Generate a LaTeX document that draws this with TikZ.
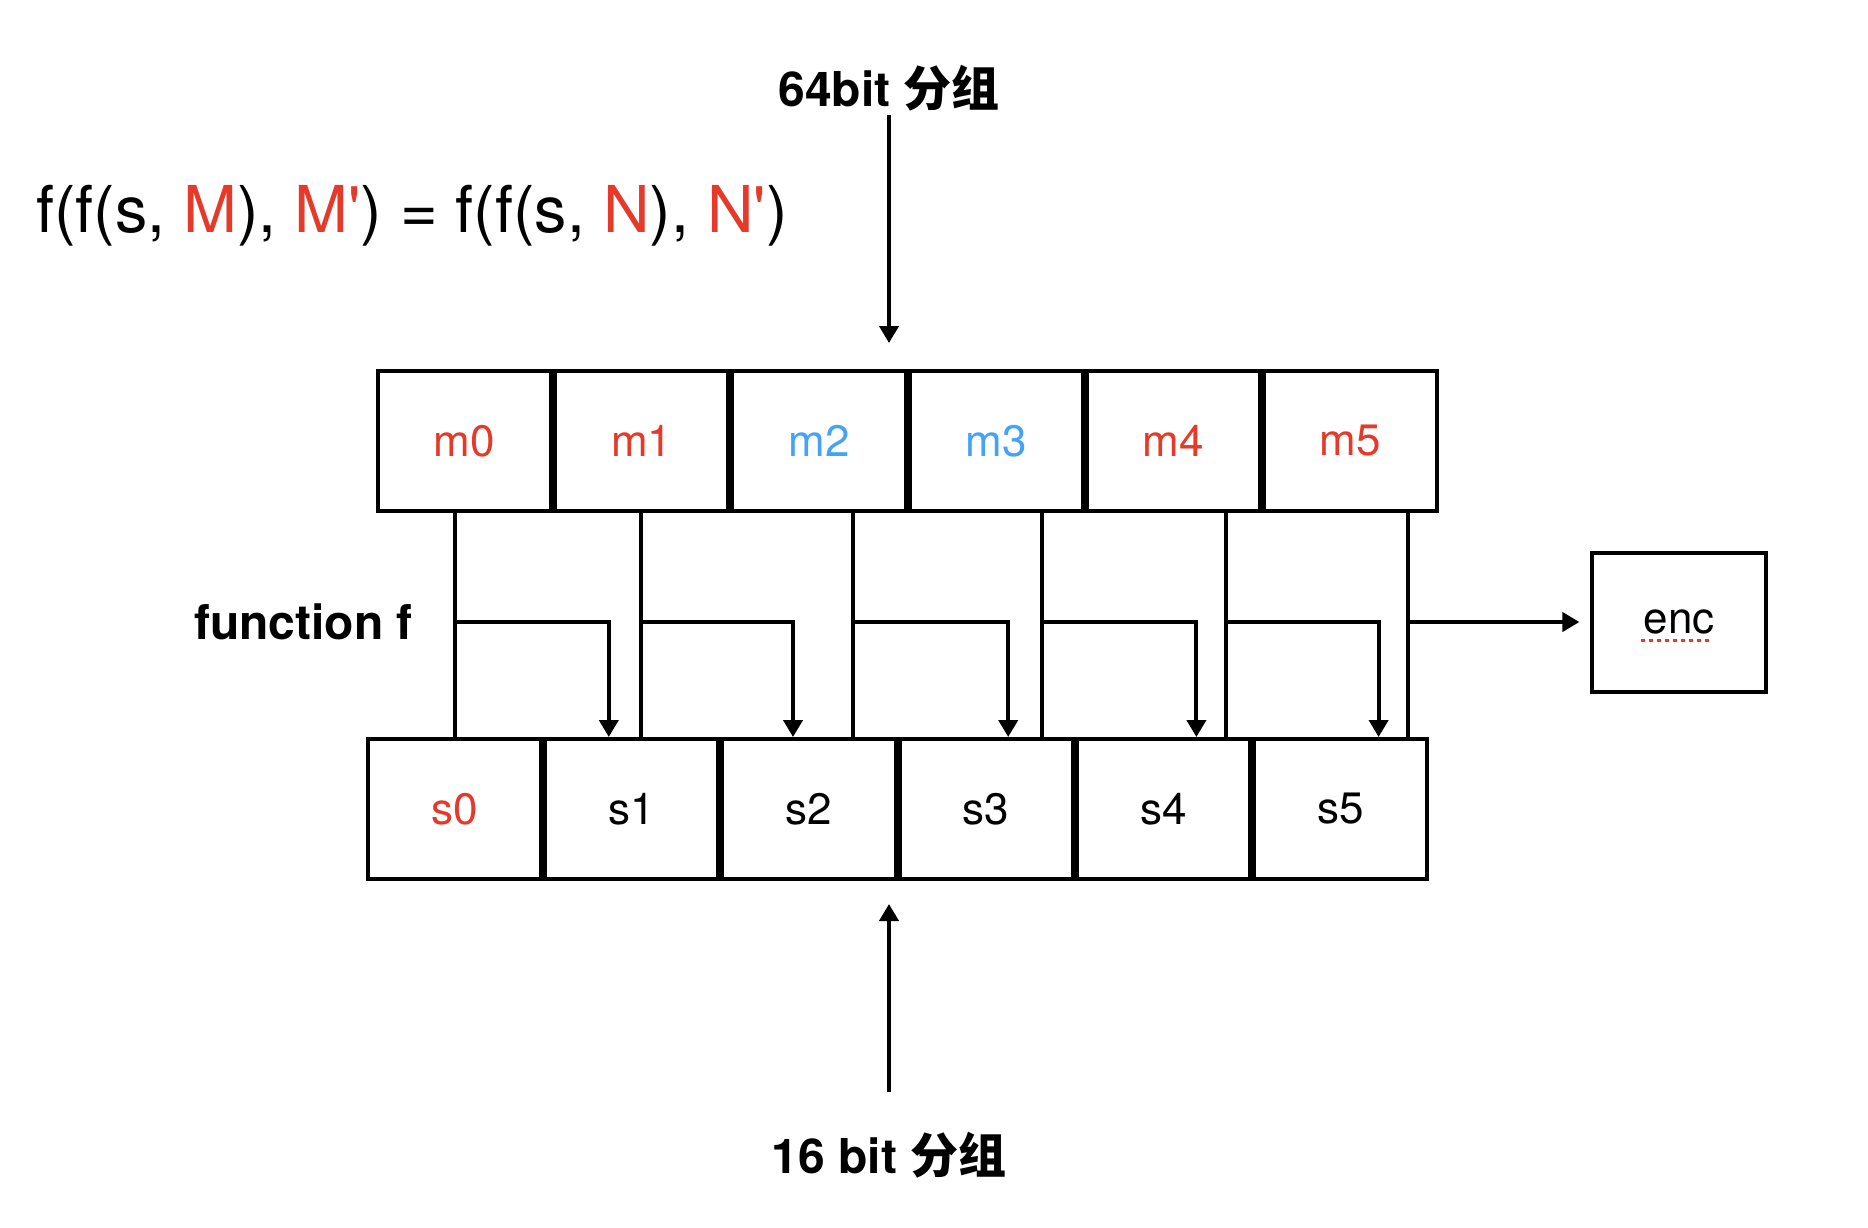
\documentclass[tikz,border=0pt]{standalone}
\usepackage{fontspec}
\newfontfamily\helv{TeX Gyre Heros}
\newfontfamily\cjk{Noto Sans CJK SC}
\usetikzlibrary{positioning, arrows.meta}
\definecolor{mred}{HTML}{E5392A}
\definecolor{mblue}{HTML}{44A3F6}
\tikzset{
  cell/.style={draw, line width=4pt, minimum width=173.2pt, minimum height=140pt, inner sep=0pt, font=\helv\fontsize{44}{50}\selectfont},
  wire/.style={line width=4pt},
  tip/.style={-{Triangle[length=17pt,width=19pt]}},
  title/.style={font=\helv\bfseries\fontsize{48}{56}\selectfont, inner sep=4pt},
}

\begin{document}
\begin{tikzpicture}[x=1pt, y=-1pt]
        \useasboundingbox (0,0) rectangle (1868,1228);
        %---------------------------
        \node[cell, text=mred] (m0) at (464.5,441) {m0};
        \node[cell, text=mred, right=0pt of m0] (m1) {m1};
        \node[cell, text=mblue, right=0pt of m1] (m2) {m2};
        \node[cell, text=mblue, right=0pt of m2] (m3) {m3};
        \node[cell, text=mred, right=0pt of m3] (m4) {m4};
        \node[cell, text=mred, right=0pt of m4] (m5) {m5};
        \node[cell, text=mred] (s0) at (454.6,809) {s0};
        \node[cell, right=0pt of s0] (s1) {s1};
        \node[cell, right=0pt of s1] (s2) {s2};
        \node[cell, right=0pt of s2] (s3) {s3};
        \node[cell, right=0pt of s3] (s4) {s4};
        \node[cell, right=0pt of s4] (s5) {s5};
        \node[cell, minimum height=139pt] (enc) at (1679,622) {enc};
        \draw[mred, line width=3pt, dash pattern=on 4pt off 4pt] ([xshift=-38pt, yshift=-7pt]enc.base) -- ([xshift=32pt, yshift=-7pt]enc.base);
        %---------------------------
        \node[anchor=west, inner sep=0pt, font=\helv\fontsize{64.6}{70}\selectfont] (eq) at (36,215.5) {f(f(s, \textcolor{mred}{M}), \textcolor{mred}{M'}) = f(f(s, \textcolor{mred}{N}), \textcolor{mred}{N'})};
        \node[title] (in64) at (889,88) {64bit {\cjk 分组}};
        \node[title] (in16) at (889,1155) {16 bit {\cjk 分组}};
        \node[title, anchor=east] (fun) at (417,622) {function f};
        %--------------------------
        \draw[wire, tip, shorten >=26pt] (in64.south) -- (in64.south |- m0.north);
        \draw[wire, tip, shorten <=36pt, shorten >=23pt] (in16.north) -- (in16.north |- s0.south);
        \coordinate (v0) at ([xshift=-9.5pt]m0.south);
        \coordinate (v1) at ([xshift=-1pt]m1.south);
        \coordinate (v2) at ([xshift=34pt]m2.south);
        \coordinate (v3) at ([xshift=46pt]m3.south);
        \coordinate (v4) at ([xshift=53pt]m4.south);
        \coordinate (v5) at ([xshift=57pt]m5.south);
        \draw[wire] (v0) -- (v0 |- s0.north);
        \draw[wire] (v1) -- (v1 |- s1.north);
        \draw[wire] (v2) -- (v2 |- s2.north);
        \draw[wire] (v3) -- (v3 |- s3.north);
        \draw[wire] (v4) -- (v4 |- s4.north);
        \draw[wire] (v5) -- (v5 |- s5.north);
        \draw[wire, tip] (v0 |- fun.east) -| ([xshift=-23pt]s1.north);
        \draw[wire, tip] (v1 |- fun.east) -| ([xshift=-16pt]s2.north);
        \draw[wire, tip] (v2 |- fun.east) -| ([xshift=22pt]s3.north);
        \draw[wire, tip] (v3 |- fun.east) -| ([xshift=33pt]s4.north);
        \draw[wire, tip] (v4 |- fun.east) -| ([xshift=38pt]s5.north);
        \draw[wire, tip, shorten >=11pt] (v5 |- fun.east) -- (enc.west |- fun.east);
\end{tikzpicture}
\end{document}
